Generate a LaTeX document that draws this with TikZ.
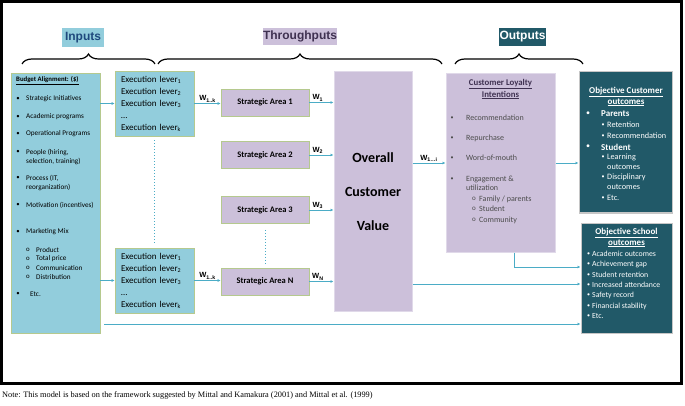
\documentclass[tikz,border=0pt]{standalone}
\usepackage{fontspec}
\setmainfont{Carlito}
\newfontfamily\arialfont{Liberation Sans}
\newfontfamily\timesfont{Liberation Serif}
\usetikzlibrary{arrows.meta,decorations.pathreplacing,positioning}

\definecolor{inblue}{RGB}{146,205,220}
\definecolor{thpurple}{RGB}{204,192,218}
\definecolor{outteal}{RGB}{33,89,104}
\definecolor{edgegreen}{RGB}{181,201,142}
\definecolor{flowblue}{RGB}{75,172,198}
\definecolor{navytext}{RGB}{31,73,125}
\definecolor{plumtext}{RGB}{63,49,81}

\begin{document}
\begin{tikzpicture}[x=1pt,y=-1pt,
    inbox/.style={draw=edgegreen,line width=0.9pt,fill=inblue,inner sep=0pt},
    thbox/.style={draw=edgegreen,line width=0.9pt,fill=thpurple,inner sep=0pt,font=\fontsize{8.5}{10}\selectfont\bfseries},
    bigbox/.style={draw=thpurple!60!white,line width=1pt,fill=thpurple,inner sep=0pt},
    outbox/.style={draw=gray!45,line width=1pt,fill=outteal,inner sep=0pt},
    lever/.style={inbox,align=left,text width=67pt,inner xsep=6pt,minimum height=65pt,font=\fontsize{9}{12}\selectfont},
    flow/.style={draw=flowblue,line width=0.6pt,-{Latex[length=3pt,width=3pt]}},
    wlbl/.style={font=\arialfont\bfseries\fontsize{7.5}{8}\selectfont,inner sep=1pt},
    txt/.style={anchor=west,inner sep=0pt},
    brc/.style={decorate,decoration={brace,amplitude=10pt},line width=1.2pt}]
\useasboundingbox (0,0) rectangle (685,406);
\draw[line width=3pt] (1.5,1.5) rectangle (681.5,383.5);
\node[txt,font=\timesfont\fontsize{8.3}{10}\selectfont] (note) at (2,395)
  {Note: This model is based on the framework suggested by Mittal and Kamakura (2001) and Mittal et al. (1999)};

% stage titles and braces
\node[fill=inblue,minimum width=42pt,minimum height=19pt,inner sep=0pt,text=navytext,font=\arialfont\bfseries\fontsize{12}{14}\selectfont] (inputs) at (83,37.5) {Inputs};
\node[fill=thpurple,minimum width=74pt,minimum height=17pt,inner sep=0pt,text=plumtext,font=\arialfont\bfseries\fontsize{12}{14}\selectfont] (throughputs) at (300,36.5) {Throughputs};
\node[fill=outteal,minimum width=47pt,minimum height=18pt,inner sep=0pt,text=white,font=\arialfont\bfseries\fontsize{12}{14}\selectfont] (outputs) at (522.5,37) {Outputs};
\draw[brc] (22,64) -- (155,64);
\draw[brc] (158,64) -- (442,64);
\draw[brc] (455,64) -- (583,64);

% inputs
\node[inbox,minimum width=89pt,minimum height=260pt] (bud) at (55.5,203) {};
\node[txt,font=\fontsize{6.8}{8}\selectfont\bfseries] (bud-title) at (16,81) {\underline{Budget Alignment: (\$)}};
\foreach \y/\t [count=\i] in {99/Strategic Initiatives, 117/Academic programs, 134/Operational Programs,
    152/{People (hiring,}, 161/{selection, training)}, 178/{Process (IT,}, 187/reorganization),
    205/Motivation (incentives), 232/Marketing Mix}
  \node[txt,font=\fontsize{7.2}{8}\selectfont] (bud-\i) at (26,\y) {\t};
\node[txt,font=\fontsize{7.2}{8}\selectfont] (bud-etc) at (30,294) {Etc.};
\foreach \y in {99,117,134,152,178,205,232,294}
  \node[font=\fontsize{6.8}{8}\selectfont,inner sep=0pt] (bud-b\y) at (18,\y) {\textbullet};
\foreach \y/\t [count=\i] in {250/Product, 259/Total price, 268/Communication, 277/Distribution} {
  \node[font=\fontsize{6.8}{8}\selectfont,inner sep=0pt] (mix-o\i) at (28,\y) {o};
  \node[txt,font=\fontsize{7.2}{8}\selectfont] (mix-\i) at (36,\y) {\t};
}

\node[lever] (lev1) at (154.5,103.5) {Execution lever\textsubscript{1}\\Execution lever\textsubscript{2}\\Execution lever\textsubscript{3}\\\ldots\\Execution lever\textsubscript{k}};
\node[lever] (lev2) at (154.5,280.5) {Execution lever\textsubscript{1}\\Execution lever\textsubscript{2}\\Execution lever\textsubscript{3}\\\ldots\\Execution lever\textsubscript{k}};
\draw[flowblue,dotted,line width=1pt,shorten <=4pt,shorten >=5pt] (lev1) -- (lev2);

% throughputs
\node[thbox,minimum width=88pt,minimum height=27pt] (sa1) at (265,102.5) {Strategic Area 1};
\node[thbox,minimum width=88pt,minimum height=27pt] (sa2) at (265,155) {Strategic Area 2};
\node[thbox,minimum width=88pt,minimum height=27pt] (sa3) at (265,210) {Strategic Area 3};
\node[thbox,minimum width=88pt,minimum height=27pt] (saN) at (265,281.5) {Strategic Area N};
\draw[flowblue,dotted,line width=1pt,shorten <=6pt,shorten >=4pt] (sa3) -- (saN);

\node[bigbox,minimum width=78pt,minimum height=239pt,align=center,font=\fontsize{14}{34}\selectfont\bfseries] (ocv) at (373,191.5) {Overall\\Customer\\Value};

% outputs
\node[bigbox,minimum width=109pt,minimum height=178pt] (loyal) at (500.5,163) {};
\node[align=center,inner sep=0pt,font=\fontsize{8.8}{12}\selectfont\bfseries,text=plumtext] (loyal-title) at (500.5,89) {\underline{Customer Loyalty}\\\underline{Intentions}};
\foreach \y/\t [count=\i] in {118/Recommendation, 138/Repurchase, 158/Word-of-mouth, 179/Engagement \&, 188/utilization} {
  \node[txt,font=\fontsize{8}{10}\selectfont,text=black!70] (loyal-\i) at (466,\y) {\t};
}
\foreach \y in {118,138,158,179}
  \node[font=\fontsize{6}{8}\selectfont,inner sep=0pt,text=black!70] (loyal-b\y) at (452,\y) {\textbullet};
\foreach \y/\t [count=\i] in {199/{Family / parents}, 209/Student, 220/Community} {
  \node[font=\fontsize{7}{8}\selectfont,inner sep=0pt,text=black!70] (eng-o\i) at (474,\y) {o};
  \node[txt,font=\fontsize{8}{10}\selectfont,text=black!70] (eng-\i) at (479,\y) {\t};
}

\node[outbox,minimum width=93pt,minimum height=141pt] (ocust) at (625.5,142.5) {};
\node[align=center,inner sep=0pt,text=white,font=\fontsize{9}{11}\selectfont\bfseries] (ocust-title) at (626,96.5) {\underline{Objective Customer}\\\underline{outcomes}};
\foreach \y/\t in {114/Parents, 147/Student} {
  \node[font=\fontsize{8}{10}\selectfont,inner sep=0pt,text=white] (ocust-b\y) at (588,\y) {\textbullet};
  \node[txt,font=\fontsize{9}{10}\selectfont\bfseries,text=white] (ocust-\t) at (601,\y) {\t};
}
\foreach \y/\t [count=\i] in {125/Retention, 136/Recommendation, 157/Learning, 167/outcomes, 177/Disciplinary, 187/outcomes, 198/Etc.}
  \node[txt,font=\fontsize{8.2}{10}\selectfont,text=white] (ocust-\i) at (607,\y) {\t};
\foreach \y in {125,136,157,177,198}
  \node[font=\fontsize{6}{8}\selectfont,inner sep=0pt,text=white] (ocust-s\y) at (603,\y) {\textbullet};

\node[outbox,minimum width=91pt,minimum height=110pt] (school) at (626.5,278) {};
\node[align=center,inner sep=0pt,text=white,font=\fontsize{9}{11}\selectfont\bfseries] (school-title) at (626.5,237.5) {\underline{Objective School}\\\underline{outcomes}};
\foreach \y/\t [count=\i] in {254/Academic outcomes, 264/Achievement gap, 275/Student retention, 285/Increased attendance,
    295/Safety record, 306/Financial stability, 316/Etc.} {
  \node[font=\fontsize{6}{8}\selectfont,inner sep=0pt,text=white] (school-b\i) at (588.5,\y) {\textbullet};
  \node[txt,font=\fontsize{7.8}{10}\selectfont,text=white] (school-\i) at (592,\y) {\t};
}

% connectors
\coordinate (sch-in1) at ([yshift=11pt]school.west);
\coordinate (sch-in2) at ([yshift=-6pt]school.west);
\coordinate (sch-in3) at ([yshift=-46pt]school.west);
\draw[flow] (bud.east |- lev1) -- (lev1);
\draw[flow] (bud.east |- lev2) -- (lev2);
\draw[flow] (lev1.east) -- (lev1.east -| sa1.west) node[wlbl,midway,above] {W\textsubscript{1..k}};
\draw[flow] (lev2.east) -- (lev2.east -| saN.west) node[wlbl,midway,above] {W\textsubscript{1..k}};
\draw[flow] (sa1.east) -- (sa1.east -| ocv.west) node[wlbl,pos=0.35,above] {W\textsubscript{1}};
\draw[flow] (sa2.east) -- (sa2.east -| ocv.west) node[wlbl,pos=0.35,above] {W\textsubscript{2}};
\draw[flow] (sa3.east) -- (sa3.east -| ocv.west) node[wlbl,pos=0.35,above] {W\textsubscript{3}};
\draw[flow] (saN.east) -- (saN.east -| ocv.west) node[wlbl,pos=0.35,above] {W\textsubscript{N}};
\draw[flow] (loyal.west -| ocv.east) -- (loyal.west) node[wlbl,midway,above] {W\textsubscript{1\ldots i}};
\draw[flow] (loyal.east) -- (loyal.east -| ocust.west);
\draw[flow] ([xshift=13.5pt]loyal.south) |- (sch-in1);
\draw[flow] (sch-in2 -| ocv.east) -- (sch-in2);
\draw[flow] ([xshift=4pt]sch-in3 -| bud.east) -- (sch-in3);
\end{tikzpicture}
\end{document}
